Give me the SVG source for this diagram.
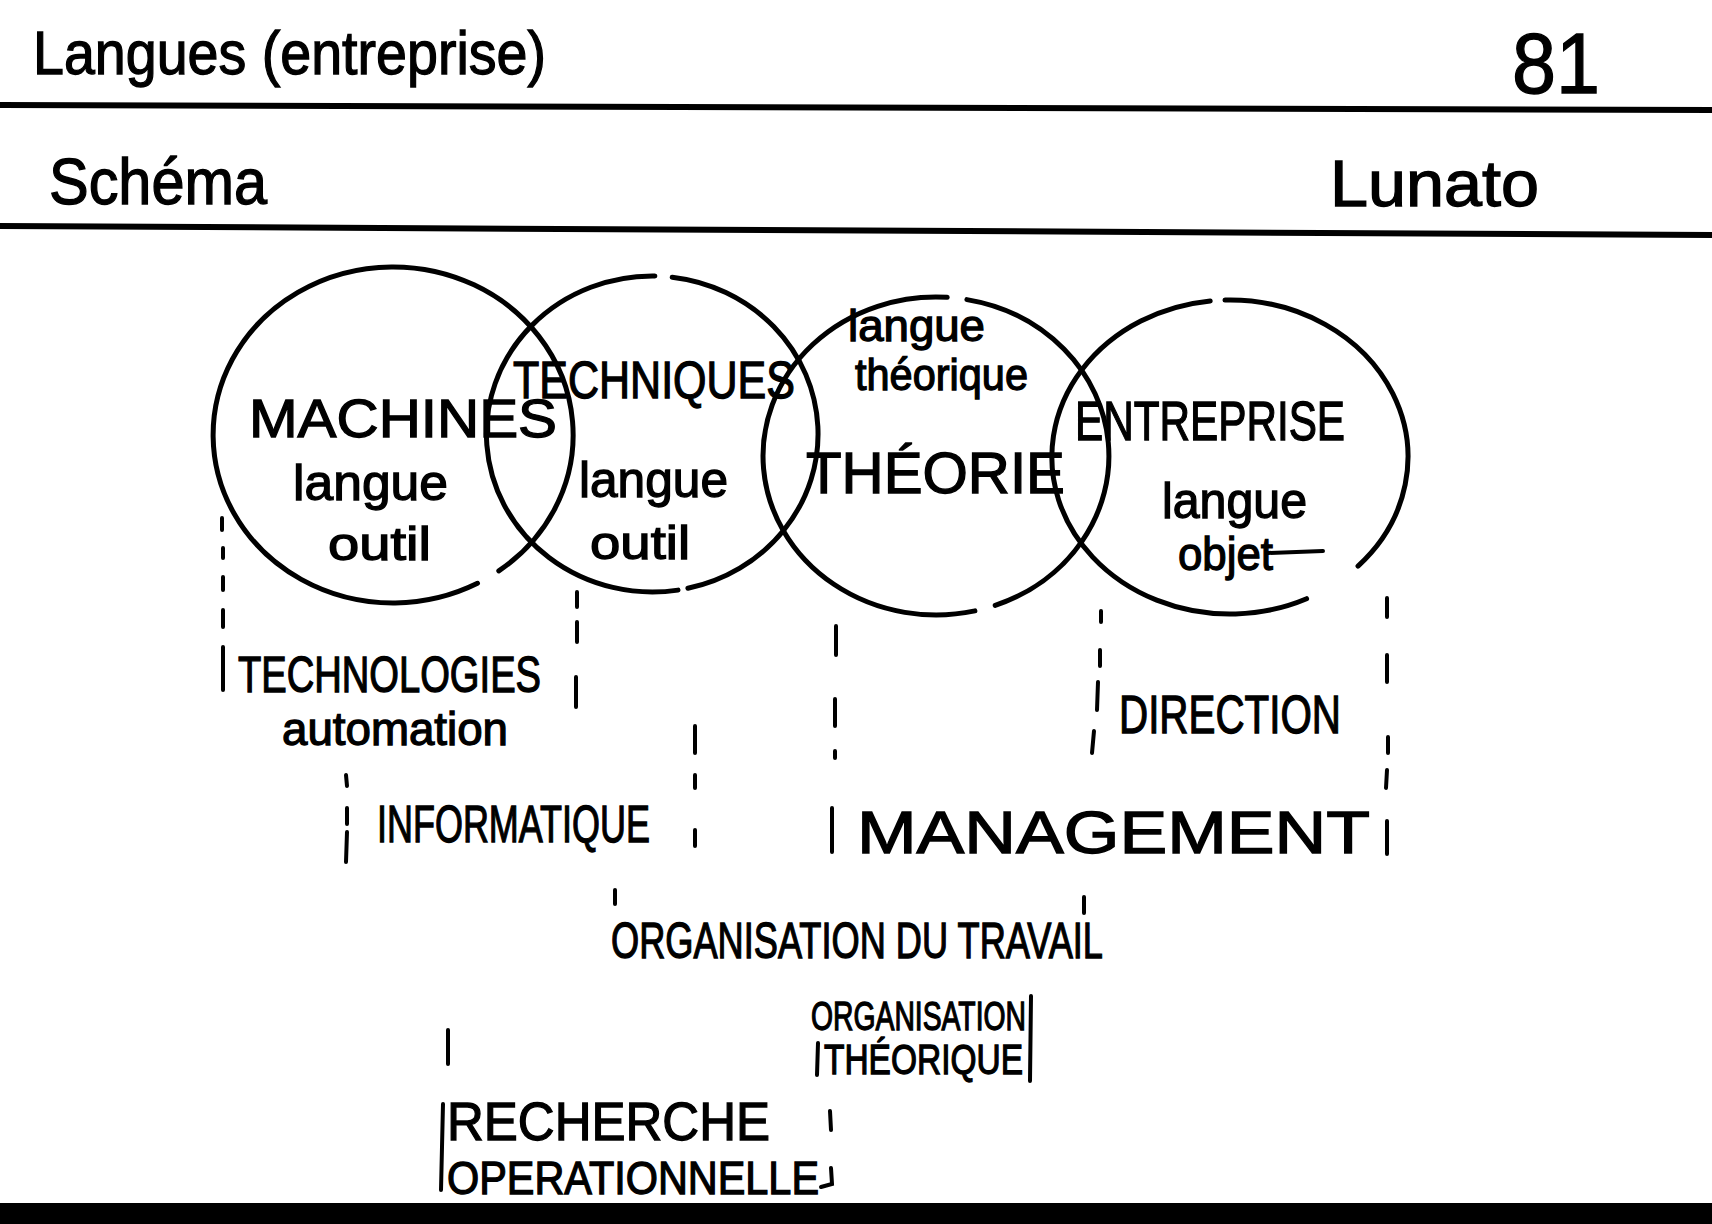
<svg xmlns="http://www.w3.org/2000/svg" width="1712" height="1224" viewBox="0 0 1712 1224">
<style>
  .t { font-family: "Liberation Sans", Arial, sans-serif; fill: #000; stroke: #000; stroke-width: 1.3; }
  .c { fill: none; stroke: #000; stroke-width: 5; stroke-linecap: round; }
  .d { fill: none; stroke: #000; stroke-width: 4; stroke-linecap: round; }
  .rule { stroke: #000; stroke-width: 6; }
</style>
<rect x="0" y="0" width="1712" height="1224" fill="#fff"/>

<g id="header">
  <text class="t" x="33" y="74" font-size="62" textLength="513" lengthAdjust="spacingAndGlyphs">Langues (entreprise)</text>
  <text class="t" x="1512" y="93" font-size="86" textLength="88" lengthAdjust="spacingAndGlyphs">81</text>
  <line class="rule" x1="0" y1="105" x2="1712" y2="110"/>
  <text class="t" x="49" y="204" font-size="64" textLength="218" lengthAdjust="spacingAndGlyphs">Schéma</text>
  <text class="t" x="1330" y="206" font-size="64" textLength="209" lengthAdjust="spacingAndGlyphs">Lunato</text>
  <line class="rule" x1="0" y1="226" x2="1712" y2="235"/>
  <rect x="0" y="1203" width="1712" height="21" fill="#000"/>
</g>

<g id="machines">
  <path class="c" d="M 477.5 583.3 A 180 168 0 1 1 498.8 570.9"/>
  <text class="t" x="249" y="437" font-size="54" textLength="308" lengthAdjust="spacingAndGlyphs">MACHINES</text>
  <text class="t" x="293" y="500" font-size="50" textLength="155" lengthAdjust="spacingAndGlyphs">langue</text>
  <text class="t" x="328" y="560" font-size="46" textLength="103" lengthAdjust="spacingAndGlyphs">outil</text>
</g>

<g id="techniques">
  <path class="c" d="M 678.0 590.1 A 166 158 0 1 1 654.9 276.0"/>
  <path class="c" d="M 672.2 277.2 A 166 158 0 0 1 687.9 588.3"/>
  <text class="t" x="513" y="398" font-size="52" textLength="282" lengthAdjust="spacingAndGlyphs">TECHNIQUES</text>
  <text class="t" x="579" y="497" font-size="50" textLength="149" lengthAdjust="spacingAndGlyphs">langue</text>
  <text class="t" x="590" y="559" font-size="46" textLength="100" lengthAdjust="spacingAndGlyphs">outil</text>
</g>

<g id="theorie">
  <path class="c" d="M 974.9 610.9 A 173 159 0 1 1 947.2 297.3"/>
  <path class="c" d="M 966.9 299.6 A 173 159 0 0 1 995.2 605.4"/>
  <text class="t" x="848" y="341" font-size="44" textLength="137" lengthAdjust="spacingAndGlyphs">langue</text>
  <text class="t" x="855" y="390" font-size="44" textLength="173" lengthAdjust="spacingAndGlyphs">théorique</text>
  <text class="t" x="806" y="493" font-size="58" textLength="259" lengthAdjust="spacingAndGlyphs">THÉORIE</text>
</g>

<g id="entreprise">
  <path class="c" d="M 1306.6 598.7 A 178 157 0 1 1 1210.2 301.0"/>
  <path class="c" d="M 1225.0 300.1 A 178 157 0 0 1 1358.0 566.1"/>
  <text class="t" x="1075" y="440" font-size="56" textLength="270" lengthAdjust="spacingAndGlyphs">ENTREPRISE</text>
  <text class="t" x="1162" y="518" font-size="50" textLength="145" lengthAdjust="spacingAndGlyphs">langue</text>
  <text class="t" x="1178" y="570" font-size="46" textLength="95" lengthAdjust="spacingAndGlyphs">objet</text>
  <line class="d" x1="1268" y1="553" x2="1323" y2="551"/>
</g>

<g id="connectors">
  <path class="d" d="M222 518 L222 530 M223 548 L223 558 M223 577 L223 590 M223 610 L223 627 M223 647 L223 690"/>
  <path class="d" d="M577 592 L577 607 M577 622 L577 642 M576 677 L576 707"/>
  <path class="d" d="M695 726 L695 753 M695 775 L695 788 M695 830 L695 846"/>
  <path class="d" d="M346 775 L347 786 M347 808 L347 824 M347 832 L346 862"/>
  <path class="d" d="M836 626 L836 655 M835 699 L835 726 M835 751 L835 758 M832 808 L832 852"/>
  <path class="d" d="M1101 611 L1101 622 M1100 650 L1100 666 M1098 682 L1097 710 M1094 731 L1092 753"/>
  <path class="d" d="M1387 598 L1387 617 M1387 655 L1387 682 M1388 737 L1388 753 M1387 770 L1386 788 M1387 821 L1387 854"/>
  <path class="d" d="M615 890 L615 904"/>
  <path class="d" d="M1084 897 L1084 913"/>
  <path class="d" d="M448 1030 L448 1064"/>
  <path class="d" d="M830 1111 L831 1130"/>
  <path class="d" d="M818 1043 L817 1075"/>
  <path class="d" d="M1031 996 L1030 1081"/>
  <path class="d" d="M443 1104 L441 1190"/>
  <path class="d" d="M821 1187 L832 1184 L831 1168"/>
</g>

<g id="labels">
  <text class="t" x="238" y="692" font-size="50" textLength="303" lengthAdjust="spacingAndGlyphs">TECHNOLOGIES</text>
  <text class="t" x="282" y="745" font-size="46" textLength="226" lengthAdjust="spacingAndGlyphs">automation</text>
  <text class="t" x="377" y="842" font-size="52" textLength="273" lengthAdjust="spacingAndGlyphs">INFORMATIQUE</text>
  <text class="t" x="857" y="853" font-size="60" textLength="513" lengthAdjust="spacingAndGlyphs">MANAGEMENT</text>
  <text class="t" x="1119" y="733" font-size="54" textLength="222" lengthAdjust="spacingAndGlyphs">DIRECTION</text>
  <text class="t" x="611" y="958" font-size="50" textLength="492" lengthAdjust="spacingAndGlyphs">ORGANISATION DU TRAVAIL</text>
  <text class="t" x="811" y="1030" font-size="40" textLength="215" lengthAdjust="spacingAndGlyphs">ORGANISATION</text>
  <text class="t" x="824" y="1074" font-size="42" textLength="199" lengthAdjust="spacingAndGlyphs">THÉORIQUE</text>
  <text class="t" x="447" y="1140" font-size="54" textLength="323" lengthAdjust="spacingAndGlyphs">RECHERCHE</text>
  <text class="t" x="447" y="1194" font-size="46" textLength="372" lengthAdjust="spacingAndGlyphs">OPERATIONNELLE</text>
</g>
</svg>
